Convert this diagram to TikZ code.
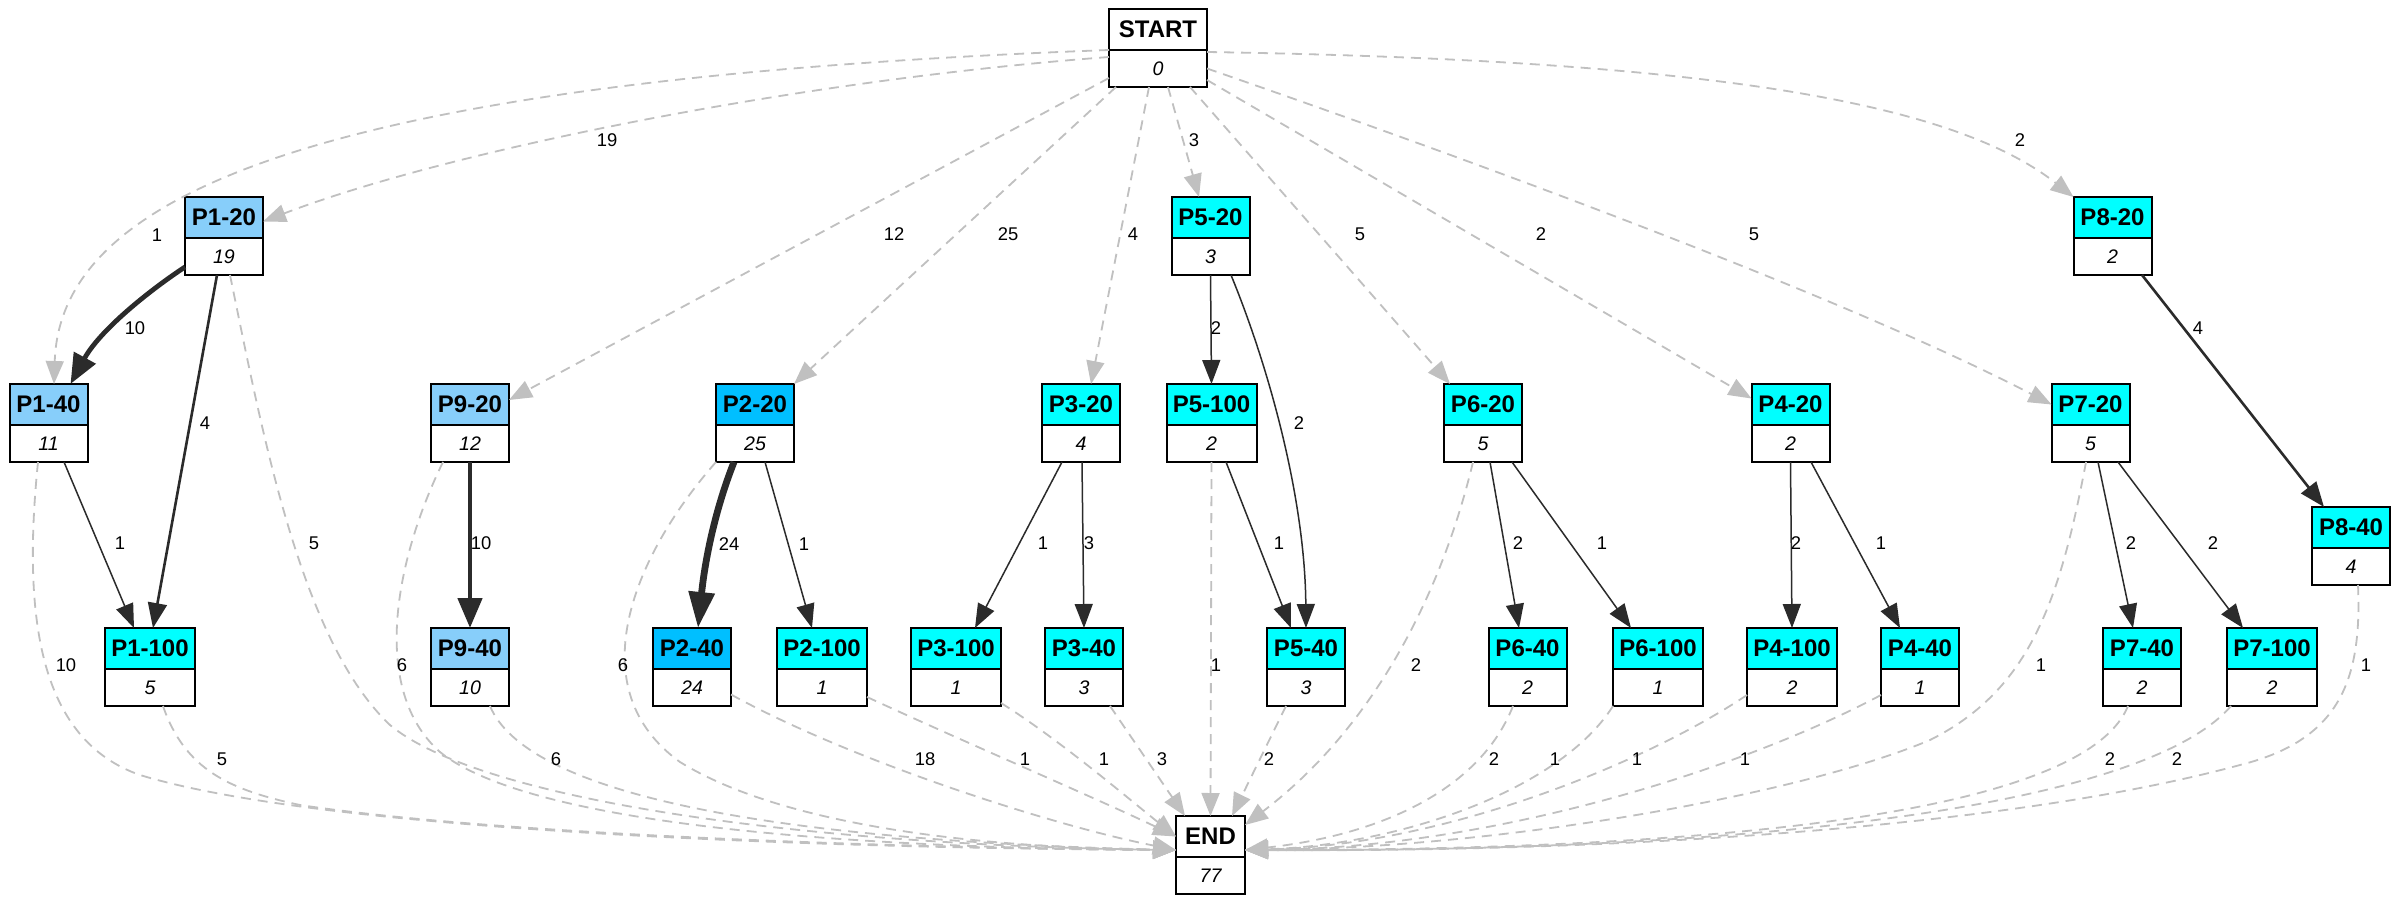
\documentclass[tikz,border=0pt]{standalone}
\usepackage{fontspec}
\setmainfont{Liberation Sans}
\usepackage{tikz}
\usetikzlibrary{positioning,calc,arrows.meta}

\definecolor{lsb}{HTML}{87CEFA}
\definecolor{dsb}{HTML}{00BFFF}
\definecolor{cyn}{HTML}{00FFFF}
\definecolor{ink}{HTML}{2B2B2B}
\definecolor{ghost}{HTML}{C0C0C0}

\tikzset{
    hdr/.style={draw, line width=1pt, minimum width=39pt, minimum height=20.5pt,
        inner sep=0pt, outer sep=0pt, font=\fontsize{12}{14}\selectfont\bfseries},
    cnt/.style={draw, fill=white, line width=1pt, minimum width=39pt, minimum height=18.5pt,
        inner sep=0pt, outer sep=0pt, font=\fontsize{9.8}{11}\selectfont\itshape},
    wide/.style={minimum width=45pt},
    lbl/.style={font=\fontsize{9.2}{10}\selectfont, inner sep=0pt},
    flowa/.style={draw=ink, line width=0.75pt, -{Triangle[length=12pt,width=9pt]}},
    flowb/.style={draw=ink, line width=1.3pt, -{Triangle[length=12.5pt,width=9.5pt]}},
    flowc/.style={draw=ink, line width=2.4pt, -{Triangle[length=15pt,width=12pt]}},
    flowd/.style={draw=ink, line width=3.4pt, -{Triangle[length=18pt,width=12.5pt]}},
    dashflow/.style={draw=ghost, line width=0.9pt, dash pattern=on 5pt off 3.5pt,
        -{Triangle[length=11.5pt,width=9pt]}}
}

\begin{document}
\begin{tikzpicture}[x=0.5pt,y=-0.5pt]
    \fill[white] (0,0) rectangle (2400,904);

    % boxes
    \node[hdr,minimum width=49pt] (start) at (1158,29.5) {START};
    \node[cnt,minimum width=49pt,below=0pt of start] (startn) {0};

    \node[hdr,fill=lsb] (p120) at (224,217.5) {P1-20};
    \node[cnt,below=0pt of p120] (p120n) {19};
    \node[hdr,fill=cyn] (p520) at (1210.5,217.5) {P5-20};
    \node[cnt,below=0pt of p520] (p520n) {3};
    \node[hdr,fill=cyn] (p820) at (2112.5,217.5) {P8-20};
    \node[cnt,below=0pt of p820] (p820n) {2};

    \node[hdr,fill=lsb] (p140) at (48.5,404.5) {P1-40};
    \node[cnt,below=0pt of p140] (p140n) {11};
    \node[hdr,fill=lsb] (p920) at (470,404.5) {P9-20};
    \node[cnt,below=0pt of p920] (p920n) {12};
    \node[hdr,fill=dsb] (p220) at (755,404.5) {P2-20};
    \node[cnt,below=0pt of p220] (p220n) {25};
    \node[hdr,fill=cyn] (p320) at (1081,404.5) {P3-20};
    \node[cnt,below=0pt of p320] (p320n) {4};
    \node[hdr,wide,fill=cyn] (p5100) at (1211.5,404.5) {P5-100};
    \node[cnt,wide,below=0pt of p5100] (p5100n) {2};
    \node[hdr,fill=cyn] (p620) at (1483,404.5) {P6-20};
    \node[cnt,below=0pt of p620] (p620n) {5};
    \node[hdr,fill=cyn] (p420) at (1790.5,404.5) {P4-20};
    \node[cnt,below=0pt of p420] (p420n) {2};
    \node[hdr,fill=cyn] (p720) at (2090.5,404.5) {P7-20};
    \node[cnt,below=0pt of p720] (p720n) {5};

    \node[hdr,fill=cyn] (p840) at (2351,527.5) {P8-40};
    \node[cnt,below=0pt of p840] (p840n) {4};

    \node[hdr,wide,fill=cyn] (p1100) at (150,648.5) {P1-100};
    \node[cnt,wide,below=0pt of p1100] (p1100n) {5};
    \node[hdr,fill=lsb] (p940) at (470,648.5) {P9-40};
    \node[cnt,below=0pt of p940] (p940n) {10};
    \node[hdr,fill=dsb] (p240) at (692,648.5) {P2-40};
    \node[cnt,below=0pt of p240] (p240n) {24};
    \node[hdr,wide,fill=cyn] (p2100) at (822,648.5) {P2-100};
    \node[cnt,wide,below=0pt of p2100] (p2100n) {1};
    \node[hdr,wide,fill=cyn] (p3100) at (956,648.5) {P3-100};
    \node[cnt,wide,below=0pt of p3100] (p3100n) {1};
    \node[hdr,fill=cyn] (p340) at (1084,648.5) {P3-40};
    \node[cnt,below=0pt of p340] (p340n) {3};
    \node[hdr,fill=cyn] (p540) at (1306,648.5) {P5-40};
    \node[cnt,below=0pt of p540] (p540n) {3};
    \node[hdr,fill=cyn] (p640) at (1527.5,648.5) {P6-40};
    \node[cnt,below=0pt of p640] (p640n) {2};
    \node[hdr,wide,fill=cyn] (p6100) at (1658,648.5) {P6-100};
    \node[cnt,wide,below=0pt of p6100] (p6100n) {1};
    \node[hdr,wide,fill=cyn] (p4100) at (1792,648.5) {P4-100};
    \node[cnt,wide,below=0pt of p4100] (p4100n) {2};
    \node[hdr,fill=cyn] (p440) at (1920,648.5) {P4-40};
    \node[cnt,below=0pt of p440] (p440n) {1};
    \node[hdr,fill=cyn] (p740) at (2142,648.5) {P7-40};
    \node[cnt,below=0pt of p740] (p740n) {2};
    \node[hdr,wide,fill=cyn] (p7100) at (2272,648.5) {P7-100};
    \node[cnt,wide,below=0pt of p7100] (p7100n) {2};

    \node[hdr,minimum width=34.5pt] (end) at (1210.5,836.5) {END};
    \node[cnt,minimum width=34.5pt,below=0pt of end] (endn) {77};

    \coordinate (endl) at ($(end.west)+(0,13.5)$);
    \coordinate (endr) at ($(end.east)+(0,13.5)$);
    \coordinate (endru) at ($(end.east)+(0,-11.5)$);
    \coordinate (endtl) at ($(end.north)+(-25.5,0)$);
    \coordinate (endtr) at ($(end.north)+(21.5,0)$);

    % from START
    \draw[dashflow] (start.south west) .. controls (300,80) and (60,200) .. ($(p140.north)+(5.5,0)$) node[lbl] at (157,235) {1};
    \draw[dashflow] ($(startn.north west)+(0,7)$) .. controls (800,80) and (450,150) .. ($(p120.east)+(0,4)$) node[lbl] at (607,140) {19};
    \draw[dashflow] ($(startn.west)+(0,9.5)$) -- ($(p920.east)+(0,-4.5)$) node[lbl] at (894,234) {12};
    \draw[dashflow] ($(startn.south west)+(7,0)$) -- (p220.north east) node[lbl] at (1008,234) {25};
    \draw[dashflow] ($(startn.south)+(-9,0)$) -- ($(p320.north)+(10,0)$) node[lbl] at (1133,234) {4};
    \draw[dashflow] ($(startn.south)+(10,0)$) -- ($(p520.north)+(-11.5,0)$) node[lbl] at (1194,140) {3};
    \draw[dashflow] ($(startn.south)+(32,0)$) -- ($(p620.north)+(-33,0)$) node[lbl] at (1360,234) {5};
    \draw[dashflow] ($(startn.east)+(0,11.5)$) -- ($(p420.west)+(0,-6)$) node[lbl] at (1541,234) {2};
    \draw[dashflow] (startn.east) .. controls (1500,170) and (1850,300) .. (p720.west) node[lbl] at (1754,234) {5};
    \draw[dashflow] ($(start.south east)+(0,2)$) .. controls (1700,60) and (1950,100) .. (p820.north west) node[lbl] at (2020,140) {2};

    % between steps
    \draw[flowc] ($(p120n.south west)+(0,-8)$) .. controls (150,290) and (100,330) .. ($(p140.north)+(22,0)$) node[lbl] at (135,328) {10};
    \draw[flowb] ($(p120n.south)+(-7,0)$) -- ($(p1100.north)+(3,0)$) node[lbl] at (205,423) {4};
    \draw[flowa] ($(p140n.south)+(15.5,0)$) -- ($(p1100.north)+(-16,0)$) node[lbl] at (120,543) {1};
    \draw[flowc] (p920n) -- (p940) node[lbl] at (481,543) {10};
    \draw[flowd] ($(p220n.south)+(-21,0)$) .. controls (715,510) and (705,560) .. ($(p240.north)+(6,0)$) node[lbl] at (729,544) {24};
    \draw[flowa] ($(p220n.south)+(10,0)$) -- ($(p2100.north)+(-10,0)$) node[lbl] at (804,544) {1};
    \draw[flowa] ($(p320n.south)+(-19,0)$) -- ($(p3100.north)+(19,0)$) node[lbl] at (1043,543) {1};
    \draw[flowa] ($(p320n.south)+(1,0)$) -- (p340.north) node[lbl] at (1089,543) {3};
    \draw[flowa] (p520n.south) -- (p5100.north) node[lbl] at (1216,328) {2};
    \draw[flowa] ($(p520n.south)+(20.5,0)$) .. controls (1270,370) and (1305,500) .. (p540.north) node[lbl] at (1299,423) {2};
    \draw[flowa] ($(p5100n.south)+(14.5,0)$) -- ($(p540.north)+(-15,0)$) node[lbl] at (1279,543) {1};
    \draw[flowa] ($(p620n.south)+(7,0)$) -- ($(p640.north)+(-8.5,0)$) node[lbl] at (1518,543) {2};
    \draw[flowa] ($(p620n.south)+(29,0)$) -- ($(p6100.north)+(-27,0)$) node[lbl] at (1602,543) {1};
    \draw[flowa] (p420n.south) -- (p4100.north) node[lbl] at (1796,543) {2};
    \draw[flowa] ($(p420n.south)+(20.5,0)$) -- ($(p440.north)+(-20,0)$) node[lbl] at (1881,543) {1};
    \draw[flowa] ($(p720n.south)+(7.5,0)$) -- ($(p740.north)+(-9,0)$) node[lbl] at (2131,543) {2};
    \draw[flowa] ($(p720n.south)+(27.5,0)$) -- ($(p7100.north)+(-29,0)$) node[lbl] at (2213,543) {2};
    \draw[flowb] ($(p820n.south)+(29.5,0)$) -- ($(p840.north)+(-27,0)$) node[lbl] at (2198,328) {4};

    % to END
    \draw[dashflow] ($(p140n.south)+(-10.5,0)$) .. controls (22,620) and (40,740) .. (140,775) .. controls (320,830) and (800,848) .. (endl) node[lbl] at (66,665) {10};
    \draw[dashflow] ($(p1100n.south)+(13,0)$) .. controls (185,770) and (230,790) .. (300,805) .. controls (500,835) and (900,848) .. (endl) node[lbl] at (222,759) {5};
    \draw[dashflow] ($(p120n.south)+(6,0)$) .. controls (262,430) and (300,640) .. (390,725) .. controls (480,800) and (800,845) .. (endl) node[lbl] at (314,543) {5};
    \draw[dashflow] ($(p920n.south)+(-27,0)$) .. controls (395,560) and (370,690) .. (440,752) .. controls (530,825) and (850,848) .. (endl) node[lbl] at (402,665) {6};
    \draw[dashflow] ($(p940n.south)+(20,0)$) .. controls (525,790) and (750,840) .. (endl) node[lbl] at (556,759) {6};
    \draw[dashflow] (p220n.south west) .. controls (630,560) and (580,690) .. (680,762) .. controls (790,830) and (1000,848) .. (endl) node[lbl] at (623,665) {6};
    \draw[dashflow] ($(p240n.east)+(0,7)$) .. controls (850,760) and (1050,825) .. (endl) node[lbl] at (925,759) {18};
    \draw[dashflow] ($(p2100n.east)+(0,9.5)$) .. controls (960,740) and (1100,800) .. (end.west) node[lbl] at (1025,759) {1};
    \draw[dashflow] ($(p3100n.south east)+(0,-3)$) .. controls (1060,740) and (1130,800) .. (end.west) node[lbl] at (1104,759) {1};
    \draw[dashflow] ($(p340n.south)+(26,0)$) -- (endtl) node[lbl] at (1162,759) {3};
    \draw[dashflow] (p5100n.south) -- (end.north) node[lbl] at (1216,665) {1};
    \draw[dashflow] ($(p540n.south)+(-20,0)$) -- (endtr) node[lbl] at (1269,759) {2};
    \draw[dashflow] ($(p620n.south)+(-10,0)$) .. controls (1440,600) and (1370,730) .. (endru) node[lbl] at (1416,665) {2};
    \draw[dashflow] ($(p640n.south)+(-14.5,0)$) .. controls (1480,790) and (1380,835) .. (endr) node[lbl] at (1494,759) {2};
    \draw[dashflow] (p6100n.south west) .. controls (1560,790) and (1400,845) .. (endr) node[lbl] at (1555,759) {1};
    \draw[dashflow] ($(p4100n.west)+(0,7.5)$) .. controls (1650,760) and (1450,845) .. (endr) node[lbl] at (1637,759) {1};
    \draw[dashflow] ($(p440n.west)+(0,7.5)$) .. controls (1750,765) and (1500,848) .. (endr) node[lbl] at (1745,759) {1};
    \draw[dashflow] ($(p720n.south)+(-4.5,0)$) .. controls (2060,600) and (2030,690) .. (1930,740) .. controls (1800,795) and (1500,848) .. (endr) node[lbl] at (2041,665) {1};
    \draw[dashflow] ($(p740n.south)+(-14,0)$) .. controls (2090,800) and (1800,850) .. (endr) node[lbl] at (2110,759) {2};
    \draw[dashflow] ($(p7100n.south west)+(4,0)$) .. controls (2150,800) and (1800,852) .. (endr) node[lbl] at (2177,759) {2};
    \draw[dashflow] ($(p840n.south)+(7,0)$) .. controls (2362,680) and (2340,740) .. (2240,765) .. controls (2000,830) and (1600,852) .. (endr) node[lbl] at (2366,665) {1};
\end{tikzpicture}
\end{document}
